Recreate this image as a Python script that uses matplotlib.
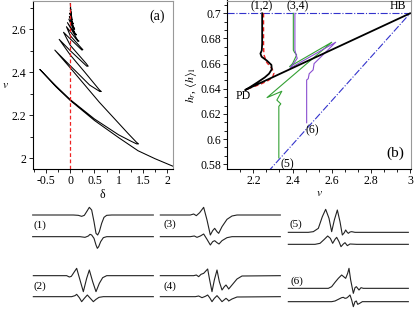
import numpy as np
import matplotlib
matplotlib.use('Agg')
from matplotlib import pyplot as plt
from matplotlib.ticker import AutoMinorLocator

plt.rcParams['font.family'] = 'Liberation Serif'
plt.rcParams['mathtext.fontset'] = 'stix'
plt.rcParams['font.size'] = 8.5

# ---- panel (a): v versus delta
a_delta = [2.12, 1.75, 1.4, 1.0, 0.5, 0.0, -0.3, -0.63,
           -0.3, 0.0, 0.5, 1.0, 1.25, 1.37, 1.41, 1.37, 1.2, 0.6, 0.0, -0.32,
           0.0, 0.4, 0.61, 0.64, 0.6, 0.3, 0.0, -0.23,
           0.0, 0.34, 0.37, 0.33, 0.0, -0.14,
           0.0, 0.24, 0.26, 0.23, 0.0, -0.08,
           0.16, 0.18, 0.15, -0.06,
           0.12, 0.125, 0.1, -0.03,
           0.09, 0.07, -0.02,
           0.06, 0.045, -0.01,
           0.04, 0.0, 0.025, 0.0, 0.01, 0.0]
a_v = [1.962, 1.997, 2.034, 2.095, 2.175, 2.268, 2.333, 2.413,
       2.337, 2.272, 2.182, 2.108, 2.079, 2.066, 2.066, 2.073, 2.113, 2.26, 2.42, 2.503,
       2.43, 2.34, 2.31, 2.31, 2.318, 2.40, 2.48, 2.553,
       2.50, 2.428, 2.428, 2.44, 2.525, 2.586,
       2.555, 2.503, 2.505, 2.512, 2.57, 2.612,
       2.543, 2.545, 2.55, 2.631,
       2.573, 2.576, 2.58, 2.647,
       2.60, 2.61, 2.66,
       2.625, 2.633, 2.675,
       2.645, 2.69, 2.665, 2.70, 2.69, 2.72]

# ---- panel (b): h versus v
blk_v = [2.245, 2.245, 2.243, 2.236, 2.242, 2.268, 2.292, 2.294, 2.28, 2.258, 2.22, 2.18, 2.158, 3.0]
blk_h = [0.700, 0.676, 0.6705, 0.668, 0.6655, 0.6625, 0.659, 0.6555, 0.652, 0.649, 0.645, 0.641, 0.639, 0.700]
red_v = [2.252, 2.252, 2.254, 2.268, 2.295, 2.305, 2.298, 2.275, 2.235, 2.19, 2.158]
red_h = [0.700, 0.674, 0.667, 0.661, 0.656, 0.6525, 0.649, 0.6465, 0.6435, 0.641, 0.639]
grn_v = [2.404, 2.404, 2.41, 2.421, 2.40, 2.385, 2.60, 2.27, 2.345, 2.32, 2.34, 2.33, 2.33]
grn_h = [0.700, 0.6708, 0.669, 0.6669, 0.660, 0.6576, 0.677, 0.633, 0.638, 0.631, 0.628, 0.626, 0.585]
pur_v = [2.412, 2.412, 2.418, 2.424, 2.40, 2.387, 2.62, 2.51, 2.505, 2.485, 2.48, 2.472, 2.472]
pur_h = [0.700, 0.6708, 0.667, 0.6642, 0.659, 0.6563, 0.677, 0.660, 0.655, 0.652, 0.648, 0.647, 0.613]
diag_v = [2.275, 3.0]
diag_h = [0.574, 0.700]

# ---- bottom traces (picture units of each small panel)
traces = {
    '(1)': ([8, 130, 145, 155, 163, 170, 178, 185, 192, 198, 203, 208, 215, 222, 230, 245, 370],
            [45, 45, 46, 49, 46, 35, 22, 30, 65, 100, 105, 95, 70, 52, 46, 45, 45],
            [8, 150, 165, 175, 180, 185, 192, 198, 202, 206, 212, 220, 230, 370],
            [110, 110, 112, 108, 103, 105, 115, 135, 145, 140, 125, 113, 110, 110]),
    '(3)': ([10, 100, 110, 118, 128, 140, 150, 160, 167, 173, 180, 185, 195, 210, 225, 240, 370],
            [45, 45, 42, 47, 38, 22, 60, 105, 92, 85, 95, 100, 80, 58, 48, 45, 45],
            [10, 100, 112, 120, 130, 140, 150, 160, 167, 173, 180, 186, 195, 210, 225, 370],
            [110, 110, 108, 112, 108, 102, 118, 135, 125, 122, 128, 132, 122, 113, 110, 110]),
    '(5)': ([10, 70, 85, 100, 112, 122, 132, 140, 148, 157, 165, 172, 178, 182, 186, 190, 195, 200, 210, 370],
            [97, 97, 95, 85, 50, 28, 55, 95, 60, 30, 65, 105, 98, 90, 96, 100, 96, 95, 97, 97],
            [10, 90, 105, 118, 128, 136, 143, 150, 155, 162, 168, 175, 180, 187, 195, 215, 370],
            [133, 133, 130, 118, 108, 115, 130, 118, 112, 125, 140, 132, 128, 137, 132, 133, 133]),
    '(2)': ([10, 110, 118, 124, 132, 140, 150, 160, 170, 178, 188, 198, 208, 218, 230, 370],
            [62, 62, 66, 64, 52, 40, 75, 110, 70, 45, 80, 110, 85, 68, 62, 62],
            [10, 125, 135, 140, 148, 155, 163, 172, 181, 190, 198, 207, 220, 370],
            [125, 125, 122, 118, 128, 140, 130, 120, 130, 140, 133, 127, 125, 125]),
    '(4)': ([10, 110, 118, 125, 132, 140, 152, 158, 165, 172, 180, 187, 195, 202, 207, 212, 215, 225, 240, 255, 370],
            [62, 62, 60, 65, 58, 55, 42, 75, 110, 75, 45, 80, 105, 95, 90, 97, 102, 90, 72, 63, 62],
            [10, 115, 125, 135, 145, 152, 158, 165, 172, 180, 187, 195, 201, 207, 212, 215, 225, 240, 370],
            [125, 125, 123, 128, 124, 120, 128, 140, 130, 122, 130, 140, 135, 130, 134, 138, 132, 126, 125]),
    '(6)': ([10, 130, 140, 150, 160, 170, 176, 182, 188, 192, 197, 205, 210, 214, 218, 222, 228, 235, 245, 370],
            [100, 100, 95, 82, 70, 60, 65, 70, 55, 40, 75, 115, 98, 95, 100, 105, 98, 100, 100, 100],
            [10, 140, 150, 160, 170, 175, 180, 185, 190, 195, 200, 205, 210, 214, 218, 224, 232, 370],
            [140, 140, 138, 133, 128, 127, 130, 129, 125, 120, 135, 155, 140, 138, 148, 145, 140, 140]),
}
trace_pos = {'(1)': (30, 200, 10, 75), '(3)': (157, 200, 20, 72), '(5)': (285, 200, 12, 73),
             '(2)': (30, 255, 10, 95), '(4)': (157, 255, 20, 93), '(6)': (285, 255, 15, 80)}

W, H = 415, 310
fig = plt.figure(figsize=(W / 100, H / 100), dpi=100)

def px_axes(x0, y0, x1, y1):
    return fig.add_axes([x0 / W, 1 - y1 / H, (x1 - x0) / W, (y1 - y0) / H])

def style(ax):
    for s in ['top', 'right']:
        ax.spines[s].set_color('#999999')
    ax.tick_params(which='both', direction='out', top=False, right=False, length=3, width=0.6)
    ax.tick_params(which='minor', length=2)
    ax.tick_params(labelsize=8.5, pad=1.5)

# panel (a)
ax1 = px_axes(32.5, 0.5, 173, 169)
ax1.plot(a_delta, a_v, color='black', lw=0.75)
ax1.axvline(0, color='#ee2222', lw=0.9, ls=(0, (3, 2)))
ax1.set_xlim(-0.781, 2.122)
ax1.set_ylim(1.949, 2.734)
ax1.set_xticks([-0.5, 0, 0.5, 1, 1.5, 2])
ax1.set_xticklabels(['-0.5', '0', '0.5', '1', '1.5', '2'])
ax1.set_yticks([2, 2.2, 2.4, 2.6])
ax1.set_yticklabels(['2', '2.2', '2.4', '2.6'])
ax1.xaxis.set_minor_locator(AutoMinorLocator(2))
ax1.yaxis.set_minor_locator(AutoMinorLocator(2))
style(ax1)
ax1.set_xlabel('δ', labelpad=1)
ax1.set_ylabel('$v$', rotation=0, ha='center', va='center')
ax1.yaxis.set_label_coords(-0.19, 0.5)
ax1.text(1.79, 2.662, '(a)', fontsize=10, ha='center', va='center')

# panel (b)
ax2 = px_axes(227.3, 0.5, 410.7, 169)
ax2.axhline(0.7, color='#3333cc', lw=0.8, ls='-.')
ax2.plot(diag_v, diag_h, color='#3333cc', lw=0.8, ls='-.')
ax2.plot(grn_v, grn_h, color='#33a033', lw=0.8)
ax2.plot(pur_v, pur_h, color='#8a4fd0', lw=0.8)
ax2.plot(red_v, red_h, color='#ee2222', lw=1.0, ls=(0, (3, 2)))
ax2.plot(blk_v, blk_h, color='black', lw=1.3)
ax2.set_xlim(2.067, 3.003)
ax2.set_ylim(0.5762, 0.7102)
ax2.set_xticks([2.2, 2.4, 2.6, 2.8, 3.0])
ax2.set_xticklabels(['2.2', '2.4', '2.6', '2.8', '3'])
ax2.set_yticks([0.58, 0.6, 0.62, 0.64, 0.66, 0.68, 0.7])
ax2.set_yticklabels(['0.58', '0.6', '0.62', '0.64', '0.66', '0.68', '0.7'])
ax2.xaxis.set_minor_locator(AutoMinorLocator(3))
ax2.yaxis.set_minor_locator(AutoMinorLocator(3))
style(ax2)
ax2.set_xlabel('$v$', labelpad=0)
ax2.set_ylabel(r'$h_r$, $\langle h\rangle_1$', labelpad=1)
ax2.text(2.244, 0.7058, '(1,2)', ha='center', va='center')
ax2.text(2.428, 0.7058, '(3,4)', ha='center', va='center')
ax2.text(2.938, 0.7058, 'HB', ha='center', va='center')
ax2.text(2.147, 0.6342, 'PD', ha='center', va='center')
ax2.text(2.499, 0.6073, '(6)', ha='center', va='center')
ax2.text(2.371, 0.5800, '(5)', ha='center', va='center')
ax2.text(2.923, 0.5890, '(b)', fontsize=11, ha='center', va='center')

# bottom traces
for name, (tx, ty, bx, by) in traces.items():
    x0, y0, lx, ly = trace_pos[name]
    ax = px_axes(x0, y0, x0 + 130, y0 + 55)
    ax.plot(tx, ty, color='#222222', lw=0.8)
    ax.plot(bx, by, color='#222222', lw=0.8)
    ax.text(lx, ly, name, fontsize=8, ha='left', va='center')
    ax.set_xlim(0, 390)
    ax.set_ylim(165, 0)
    ax.axis('off')

fig.savefig('out.png', dpi=100)
